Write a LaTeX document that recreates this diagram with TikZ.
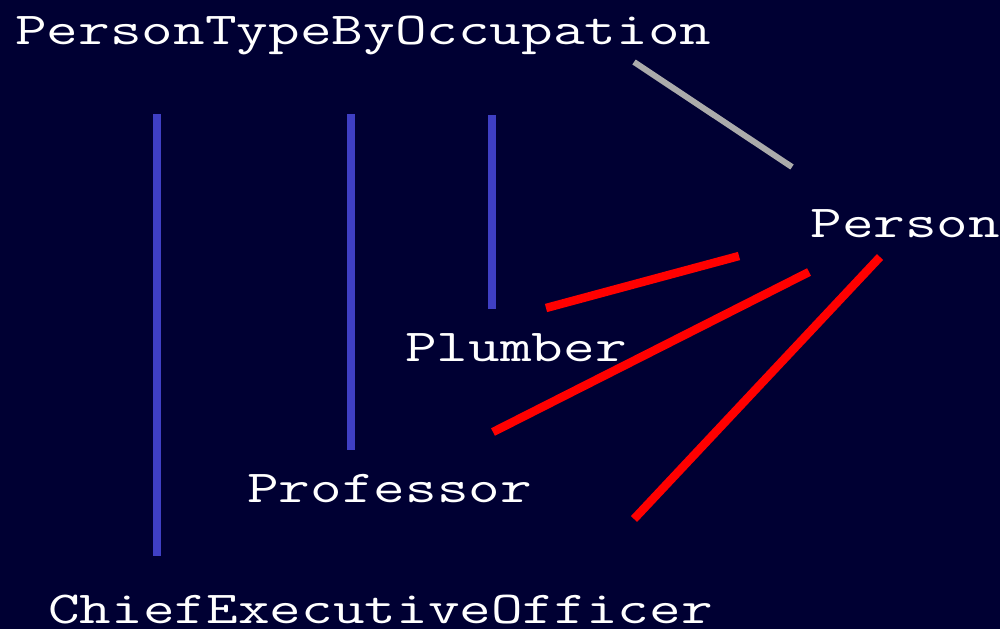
\documentclass[tikz,border=0pt]{standalone}
\usepackage{graphicx}
\definecolor{bg}{HTML}{000033}
\definecolor{bluebar}{HTML}{3F3FC4}
\definecolor{redline}{HTML}{FF0000}
\definecolor{grayline}{HTML}{ABABAB}
\newcommand{\cour}[1]{\scalebox{1.345}[1]{\ttfamily\fontsize{26}{26}\selectfont #1}}
\begin{document}
\begin{tikzpicture}[x=0.02cm,y=-0.02cm,
  lbl/.style={text=white,inner sep=0pt,anchor=base west},
  bluebarstyle/.style={draw=bluebar,line width=9*0.5669pt},
  redstyle/.style={draw=redline,line width=8.5*0.5669pt},
  graystyle/.style={draw=grayline,line width=6*0.5669pt}]
\fill[bg] (0,0) rectangle (1000,629);
\useasboundingbox (0,0) rectangle (1000,629);
\node[lbl] (ptbo) at (15,44) {\cour{PersonTypeByOccupation}};
\node[lbl] (person) at (810,237) {\cour{Person}};
\node[lbl] (plumber) at (405,361) {\cour{Plumber}};
\node[lbl] (prof) at (247,502) {\cour{Professor}};
\node[lbl] (ceo) at (48,623) {\cour{ChiefExecutiveOfficer}};
% coordinates
\coordinate (g1) at (634,62); \coordinate (g2) at (792,167);
\coordinate (b1t) at (157,114); \coordinate (b1b) at (157,556);
\coordinate (b2t) at (351,114); \coordinate (b2b) at (351,450);
\coordinate (b3t) at (492,115); \coordinate (b3b) at (492,309);
\coordinate (r1a) at (546,308); \coordinate (r1b) at (739,256);
\coordinate (r2a) at (493,432); \coordinate (r2b) at (809,272);
\coordinate (r3a) at (634,519); \coordinate (r3b) at (880,257);
\draw[graystyle] (g1) -- (g2);
\draw[bluebarstyle] (b1t) -- (b1b);
\draw[bluebarstyle] (b2t) -- (b2b);
\draw[bluebarstyle] (b3t) -- (b3b);
\draw[redstyle] (r1a) -- (r1b);
\draw[redstyle] (r2a) -- (r2b);
\draw[redstyle] (r3a) -- (r3b);
\end{tikzpicture}
\end{document}
